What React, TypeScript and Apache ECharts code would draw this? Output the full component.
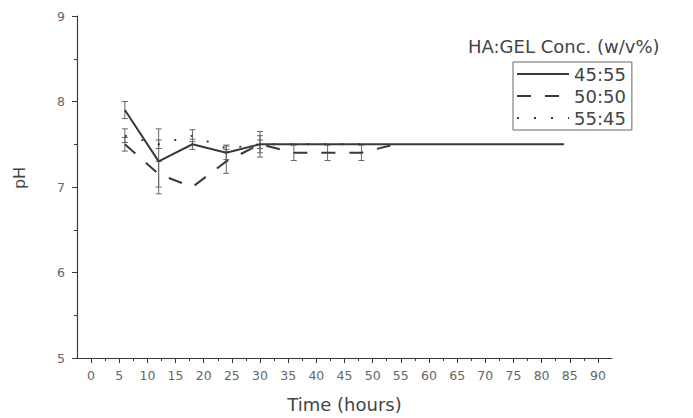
import React, { useEffect, useRef } from "react";
import * as echarts from "echarts";

const seriesNames = ["45:55", "50:50", "55:45"];
const solidTimes = [6, 12, 18, 24, 30, 36, 42, 48, 84];
const solidValues = [7.9, 7.3, 7.5, 7.4, 7.5, 7.5, 7.5, 7.5, 7.5];
const solidErr = [0.1, 0.38, 0.06, 0.08, 0.15, 0, 0, 0, 0];
const dashedTimes = [6, 12, 18, 24, 30, 36, 42, 48, 54];
const dashedValues = [7.5, 7.15, 7.0, 7.3, 7.5, 7.4, 7.4, 7.4, 7.5];
const dashedErr = [0.08, 0.15, 0, 0.14, 0.1, 0.09, 0.09, 0.09, 0];
const dottedTimes = [6, 12, 18, 24, 30, 36, 42, 48];
const dottedValues = [7.6, 7.5, 7.6, 7.45, 7.5, 7.5, 7.5, 7.5];
const dottedErr = [0.08, 0.05, 0.07, 0.04, 0.05, 0, 0, 0];
const xMajorTicks = [0, 5, 10, 15, 20, 25, 30, 35, 40, 45, 50, 55, 60, 65, 70, 75, 80, 85, 90];
const xMinorTicks = [2.5, 7.5, 12.5, 17.5, 22.5, 27.5, 32.5, 37.5, 42.5, 47.5, 52.5, 57.5, 62.5, 67.5, 72.5, 77.5, 82.5, 87.5];
const legendTitle = "HA:GEL Conc. (w/v%)";

const FONT = "DejaVu Sans";
const INK = "#3a3a3a";
const LABEL = "#666";

function errorSeries(times: number[], values: number[], errs: number[]) {
  const data = times
    .map((t, i) => [t, values[i] - errs[i], values[i] + errs[i]])
    .filter((_, i) => errs[i] > 0);
  return {
    type: "custom",
    silent: true,
    xAxisIndex: 0,
    yAxisIndex: 0,
    data,
    renderItem: (params: any, api: any) => {
      const x = api.value(0);
      const lo = api.coord([x, api.value(1)]);
      const hi = api.coord([x, api.value(2)]);
      const cap = 3;
      const style = { stroke: "#666", lineWidth: 1 };
      return {
        type: "group",
        children: [
          { type: "line", shape: { x1: lo[0], y1: lo[1], x2: hi[0], y2: hi[1] }, style },
          { type: "line", shape: { x1: lo[0] - cap, y1: lo[1], x2: lo[0] + cap, y2: lo[1] }, style },
          { type: "line", shape: { x1: hi[0] - cap, y1: hi[1], x2: hi[0] + cap, y2: hi[1] }, style },
        ],
      };
    },
    z: 1,
  };
}

export default function App() {
  const ref = useRef<HTMLDivElement>(null);
  useEffect(() => {
    document.body.style.margin = "0";
    const chart = echarts.init(ref.current!, null, { renderer: "svg" });
    const zip = (t: number[], v: number[]) => t.map((x, i) => [x, v[i]]);
    chart.setOption({
      animation: false,
      backgroundColor: "#fff",
      textStyle: { fontFamily: FONT },
      title: {
        text: legendTitle,
        left: 468,
        top: 37,
        padding: 0,
        textStyle: { fontFamily: FONT, fontSize: 18, fontWeight: "normal", color: "#444" },
      },
      legend: {
        orient: "vertical",
        left: 513,
        top: 62,
        padding: [2, 6, 2, 3],
        itemGap: 2,
        itemWidth: 52,
        itemHeight: 14,
        borderColor: "#666",
        borderWidth: 1,
        borderRadius: 0,
        data: seriesNames,
        itemStyle: { opacity: 0 },
        lineStyle: { opacity: 1 },
        textStyle: { fontFamily: FONT, fontSize: 18, lineHeight: 20, color: "#444" },
      },
      grid: { left: 77, top: 16, right: 81, bottom: 60 },
      xAxis: [
        {
          type: "value",
          min: -2.5,
          max: 92.5,
          name: "Time (hours)",
          nameLocation: "middle",
          nameGap: 37,
          nameTextStyle: { fontFamily: FONT, fontSize: 18, color: "#444" },
          axisLine: { show: true, onZero: false, lineStyle: { color: INK, width: 1.2 } },
          axisTick: { show: true, length: 5, customValues: xMajorTicks, lineStyle: { color: INK } },
          axisLabel: { customValues: xMajorTicks, fontFamily: FONT, fontSize: 12.5, color: LABEL, margin: 11 },
          splitLine: { show: false },
        },
        {
          type: "value",
          min: -2.5,
          max: 92.5,
          position: "bottom",
          axisLine: { show: false, onZero: false },
          axisTick: { show: true, length: 3, customValues: xMinorTicks, lineStyle: { color: INK } },
          axisLabel: { show: false },
          splitLine: { show: false },
        },
      ],
      yAxis: {
        type: "value",
        min: 5,
        max: 9,
        interval: 1,
        name: "pH",
        nameLocation: "middle",
        nameGap: 50,
        nameTextStyle: { fontFamily: FONT, fontSize: 16, color: "#444", padding: [0, 0, 0, 18] },
        axisLine: { show: true, onZero: false, lineStyle: { color: INK, width: 1.2 } },
        axisTick: { show: true, length: 5, lineStyle: { color: INK } },
        minorTick: { show: true, splitNumber: 2, length: 3, lineStyle: { color: INK } },
        axisLabel: { fontFamily: FONT, fontSize: 12.5, color: LABEL, margin: 12 },
        splitLine: { show: false },
      },
      series: [
        errorSeries(solidTimes, solidValues, solidErr),
        errorSeries(dashedTimes, dashedValues, dashedErr),
        errorSeries(dottedTimes, dottedValues, dottedErr),
        {
          name: seriesNames[0],
          type: "line",
          data: zip(solidTimes, solidValues),
          symbol: "none",
          color: INK,
          lineStyle: { color: INK, width: 2, type: "solid" },
          z: 3,
        },
        {
          name: seriesNames[1],
          type: "line",
          data: zip(dashedTimes, dashedValues),
          symbol: "none",
          color: INK,
          lineStyle: { color: INK, width: 2, type: [14, 14] },
          z: 3,
        },
        {
          name: seriesNames[2],
          type: "line",
          data: zip(dottedTimes, dottedValues),
          symbol: "none",
          color: INK,
          lineStyle: { color: INK, width: 2, type: [2, 15] },
          z: 3,
        },
      ],
    });
    return () => chart.dispose();
  }, []);
  return <div ref={ref} style={{ position: "fixed", left: 0, top: 0, width: 693, height: 418 }} />;
}
